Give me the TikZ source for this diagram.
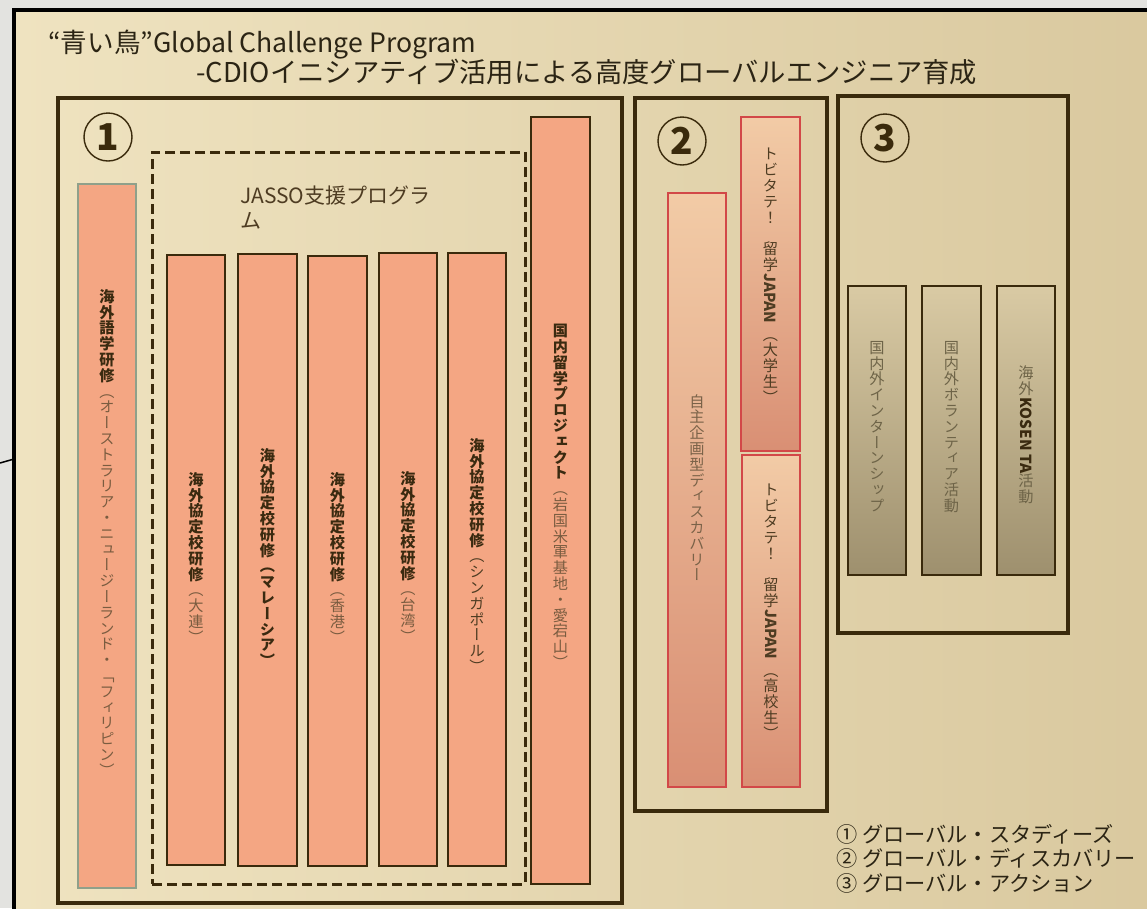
\documentclass[tikz,border=0pt]{standalone}
\usepackage{fontspec}
\usepackage{graphicx}
\setmainfont{Noto Sans CJK JP}
\newfontfamily\vfont[RawFeature=+vert]{Noto Sans CJK JP}
\definecolor{bgout}{HTML}{E3E3E0}
\definecolor{frameL}{HTML}{EFE3C0}
\definecolor{frameR}{HTML}{D9C89E}
\definecolor{ink}{HTML}{3A2A0C}
\definecolor{salmon}{HTML}{F4A683}
\definecolor{sageb}{HTML}{8FA08A}
\definecolor{txtdk}{HTML}{3A2A10}
\definecolor{txtmd}{HTML}{4E3C22}
\definecolor{txtlt}{HTML}{7A5C40}
\definecolor{pinkT}{HTML}{F2CBA6}
\definecolor{pinkB}{HTML}{D98F74}
\definecolor{redb}{HTML}{D24848}
\definecolor{txtpk}{HTML}{7A6248}
\definecolor{olvT}{HTML}{D9CAA4}
\definecolor{olvB}{HTML}{9E906E}
\definecolor{txtgr}{HTML}{6E6448}
\definecolor{ttl}{HTML}{2B2414}
\ExplSyntaxOn
\NewDocumentCommand \vt { m m }
  {
    \tl_map_inline:nn { #2 }
      { \hbox_to_wd:nn { 1em } { \hss #1 ##1 \hss } }
  }
\ExplSyntaxOff
\newcommand\lat[1]{\raisebox{.86em}{\rotatebox{-90}{\bfseries #1}}}
\tikzset{
  secbox/.style={draw=ink, line width=4pt, inner sep=0pt},
  dashbox/.style={draw=ink, line width=3pt, dash pattern=on 10pt off 5pt, inner sep=0pt},
  bar/.style={draw=ink, line width=1.8pt, fill=salmon, inner sep=0pt},
  sagebar/.style={draw=sageb, line width=1.5pt, fill=salmon, inner sep=0pt},
  discbar/.style={draw=redb, line width=1.3pt, top color=pinkT, bottom color=pinkB, inner sep=0pt},
  actbar/.style={draw=ink, line width=1.8pt, top color=olvT, bottom color=olvB, inner sep=0pt},
  vtxt/.style={anchor=north, inner sep=0pt, font=\vfont\fontsize{15.2}{15.8}\selectfont},
  cnum/.style={circle, draw=ink, line width=1.4pt, minimum size=48pt, inner sep=0pt, text=ink, font=\bfseries\fontsize{37}{37}\selectfont},
  ttltxt/.style={anchor=base west, inner sep=0pt, text=ttl, font=\fontsize{26.6}{30}\selectfont},
}
\begin{document}
\begin{tikzpicture}[x=1pt,y=-1pt]
\useasboundingbox (0,0) rectangle (1147,908);
\fill[bgout] (0,0) rectangle (1147,908);
\coordinate (s1) at (0,463);
\coordinate (s2) at (14,459);
\draw[black, line width=1.5pt] (s1) -- (s2);
\begin{scope}
\clip (0,0) rectangle (1147,908);
\draw[black, line width=3.5pt, left color=frameL, right color=frameR] (14,10) rectangle (1180,940);
\end{scope}

% titles
\node[ttltxt] (t1) at (48,52) {“青い鳥”Global Challenge Program};
\node[ttltxt, font=\fontsize{27.3}{30}\selectfont] (t2) at (196,82) {-CDIOイニシアティブ活用による高度グローバルエンジニア育成};

% section boxes
\node[secbox, minimum width=564pt, minimum height=805pt] (S1) at (340,500.5) {};
\node[secbox, minimum width=192pt, minimum height=713pt] (S2) at (731,454.5) {};
\node[secbox, minimum width=230pt, minimum height=537pt] (S3) at (953,364.5) {};
\node[dashbox, minimum width=373pt, minimum height=732pt] (D) at (338.5,518) {};

\node[cnum] (n1) at (108,137) {1};
\node[cnum] (n2) at (682,141) {2};
\node[cnum] (n3) at (885,138) {3};

\node[anchor=north west, align=left, inner sep=0pt, text=txtmd, font=\fontsize{21}{25}\selectfont] (jasso) at (240,186) {JASSO支援プログラ\\ム};

% bars of section 1
\node[sagebar, minimum width=58pt, minimum height=704pt] (L) at (107,536) {};
\node[bar, minimum width=58pt, minimum height=610pt] (b1) at (196,560) {};
\node[bar, minimum width=59pt, minimum height=612pt] (b2) at (267.5,560) {};
\node[bar, minimum width=59pt, minimum height=610pt] (b3) at (337.5,561) {};
\node[bar, minimum width=58pt, minimum height=613pt] (b4) at (408,559.5) {};
\node[bar, minimum width=58pt, minimum height=613pt] (b5) at (477,559.5) {};
\node[bar, minimum width=59pt, minimum height=767pt] (b6) at (560.5,500.5) {};

% bars of section 2
\node[discbar, minimum width=58pt, minimum height=594pt] (c1) at (697,490) {};
\node[discbar, minimum width=59pt, minimum height=334pt] (c2) at (770.5,284) {};
\node[discbar, minimum width=58pt, minimum height=332pt] (c3) at (771,621) {};

% bars of section 3
\node[actbar, minimum width=58pt, minimum height=289pt] (d1) at (877,430.5) {};
\node[actbar, minimum width=59pt, minimum height=289pt] (d2) at (951.5,430.5) {};
\node[actbar, minimum width=58pt, minimum height=289pt] (d3) at (1026,430.5) {};

% vertical texts
\node[vtxt] (Lt) at (107,289) {\vbox{\vt{\bfseries\color{txtdk}}{海外語学研修}\vt{\color{txtlt}}{（オーストラリア・ニュージーランド・「フィリピン）}}};
\node[vtxt] (b1t) at (196,472) {\vbox{\vt{\bfseries\color{txtdk}}{海外協定校研修}\vt{\color{txtlt}}{（大連）}}};
\node[vtxt] (b2t) at (267.5,448) {\vbox{\vt{\bfseries\color{txtdk}}{海外協定校研修（マレーシア）}}};
\node[vtxt] (b3t) at (337.5,472) {\vbox{\vt{\bfseries\color{txtdk}}{海外協定校研修}\vt{\color{txtlt}}{（香港）}}};
\node[vtxt] (b4t) at (408,471) {\vbox{\vt{\bfseries\color{txtdk}}{海外協定校研修}\vt{\color{txtlt}}{（台湾）}}};
\node[vtxt] (b5t) at (477,438) {\vbox{\vt{\bfseries\color{txtdk}}{海外協定校研修}\vt{\color{txtmd}}{（シンガポール）}}};
\node[vtxt] (b6t) at (560.5,324) {\vbox{\vt{\bfseries\color{txtdk}}{国内留学プロジェクト}\vt{\color{txtlt}}{（岩国米軍基地・愛宕山）}}};

\node[vtxt] (c1t) at (697,394) {\vbox{\vt{\color{txtpk}}{自主企画型ディスカバリー}}};
\node[vtxt] (c2t) at (770.5,148) {\vbox{\vt{\color{txtmd}}{トビタテ！　留学{\lat{JAPAN}}　（大学生）}}};
\node[vtxt] (c3t) at (771,484) {\vbox{\vt{\color{txtmd}}{トビタテ！　留学{\lat{JAPAN}}　（高校生）}}};

\node[vtxt] (d1t) at (877,341) {\vbox{\vt{\color{txtgr}}{国内外インターンシップ}}};
\node[vtxt] (d2t) at (951.5,341) {\vbox{\vt{\color{txtgr}}{国内外ボランティア活動}}};
\node[vtxt] (d3t) at (1026,366) {\vbox{\vt{\color{txtgr}}{海外{\color{txtdk}\lat{KOSEN TA}}活動}}};

% legend
\node[anchor=north west, align=left, inner sep=0pt, text=ttl, font=\fontsize{21.2}{24.5}\selectfont] (leg) at (836,824) {① グローバル・スタディーズ\\② グローバル・ディスカバリー\\③ グローバル・アクション};
\end{tikzpicture}
\end{document}
